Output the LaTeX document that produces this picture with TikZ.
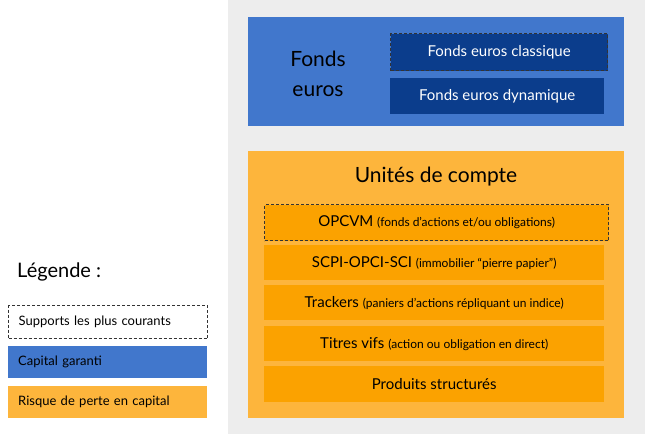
\documentclass[tikz,border=0pt]{standalone}
\usepackage{fontspec}
\setmainfont{Lato}
\definecolor{bl}{HTML}{4177CC}
\definecolor{dk}{HTML}{0B3D8C}
\definecolor{oo}{HTML}{FDB53C}
\definecolor{oi}{HTML}{FBA200}
\definecolor{gr}{HTML}{EDEDED}
\tikzset{
 rowbox/.style={fill=oi,anchor=north west,minimum height=35pt,inner sep=0pt,inner xsep=8pt,align=left,text=black,font=\fontsize{15}{17}\selectfont},
 dkbox/.style={fill=dk,text=white,anchor=north west,minimum height=37pt,inner sep=0pt,font=\fontsize{15}{17}\selectfont},
 dsh/.style={draw=black!80,dashed,line width=1.3pt,dash pattern=on 3pt off 2pt},
 legbox/.style={anchor=north west,minimum width=199pt,minimum height=32pt,inner sep=0pt,inner xsep=10pt,text width=179pt,align=left,font=\fontsize{13}{15}\selectfont},
 sm/.style={}
}
\newcommand{\smtxt}[1]{{\fontsize{12}{14}\selectfont #1}}
\begin{document}
\begin{tikzpicture}[x=1pt,y=-1pt]
\useasboundingbox (0,0) rectangle (654,442);
\fill[gr] (228,0) rectangle (645,434);
\node[fill=bl,anchor=north west,minimum width=376pt,minimum height=109pt,inner sep=0pt] (fe) at (248,17) {};
\node[align=center,font=\fontsize{21}{30}\selectfont] (fet) at (318,74) {Fonds\\euros};
\node[dkbox,minimum width=217pt,dsh] (fc) at (390,33) {Fonds euros classique};
\node[dkbox,minimum width=214pt,minimum height=36pt] (fd) at (390,78) {Fonds euros dynamique};
\node[fill=oo,anchor=north west,minimum width=376pt,minimum height=267pt,inner sep=0pt] (uc) at (248,151) {};
\node[font=\fontsize{21}{24}\selectfont] (uct) at (436,177) {Unités de compte};
\node[rowbox,minimum width=344pt,minimum height=36pt,dsh] (r1) at (264,204) {OPCVM \smtxt{(fonds d’actions et/ou obligations)}};
\node[rowbox,minimum width=340pt] (r2) at (264,245) {SCPI-OPCI-SCI \smtxt{(immobilier “pierre papier”)}};
\node[rowbox,minimum width=340pt] (r3) at (264,285) {Trackers \smtxt{(paniers d’actions répliquant un indice)}};
\node[rowbox,minimum width=340pt] (r4) at (264,326) {Titres vifs \smtxt{(action ou obligation en direct)}};
\node[rowbox,minimum width=340pt,minimum height=36pt] (r5) at (264,366) {Produits structurés};
\node[anchor=west,font=\fontsize{20}{24}\selectfont,inner sep=0pt] (lg) at (17,272) {Légende :};
\node[legbox,dsh,minimum height=33pt] (l1) at (8,305) {Supports les plus courants};
\node[legbox,fill=bl] (l2) at (8,346) {Capital garanti};
\node[legbox,fill=oo] (l3) at (8,386) {Risque de perte en capital};
\end{tikzpicture}
\end{document}
